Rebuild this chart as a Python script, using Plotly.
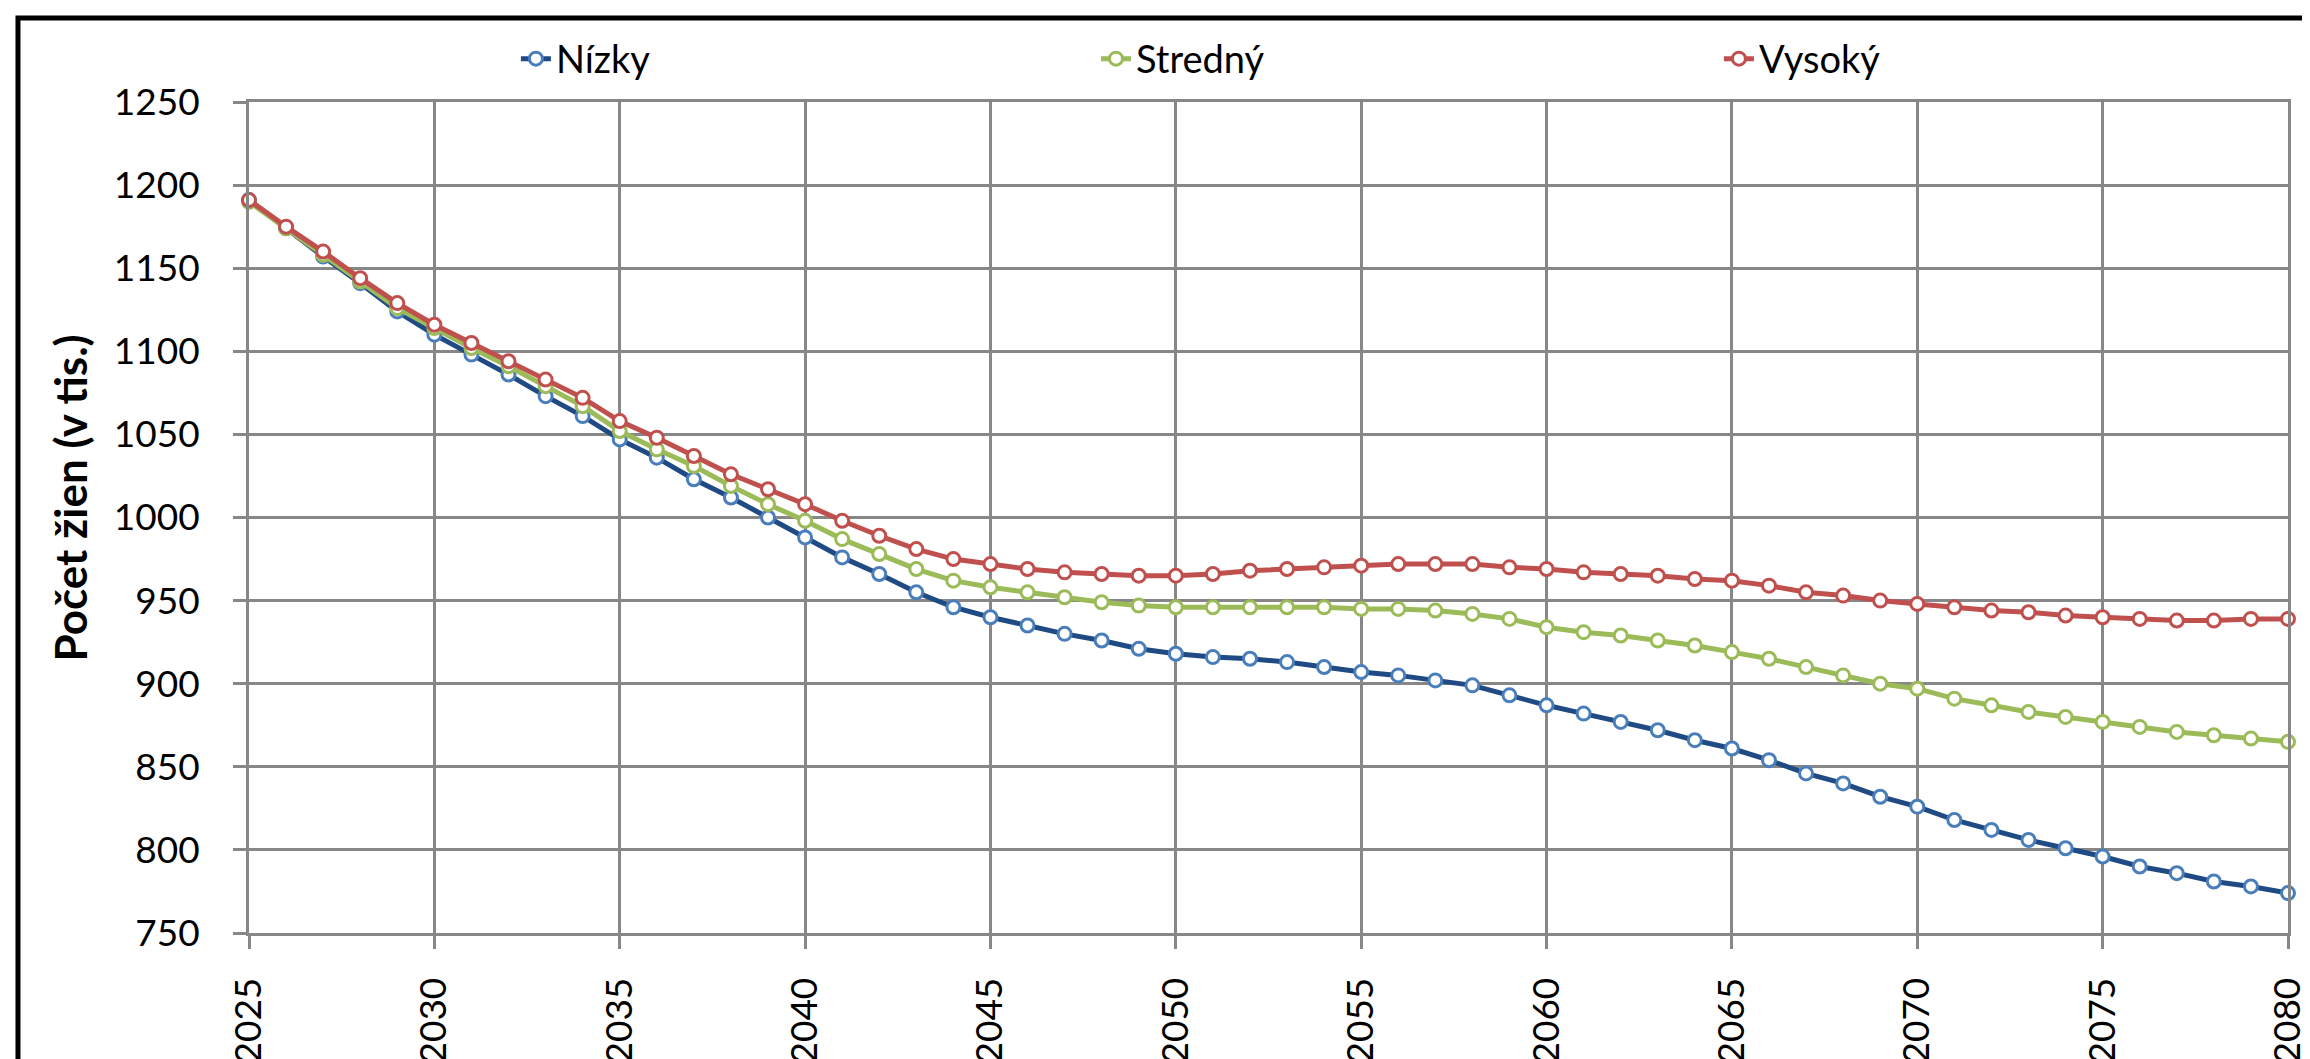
import plotly.graph_objects as go

years = list(range(2025, 2081))

nizky = [1191, 1174, 1157, 1141, 1124, 1110, 1098, 1086, 1073, 1061,
         1047, 1036, 1023, 1012, 1000, 988, 976, 966, 955, 946,
         940, 935, 930, 926, 921, 918, 916, 915, 913, 910,
         907, 905, 902, 899, 893, 887, 882, 877, 872, 866,
         861, 854, 846, 840, 832, 826, 818, 812, 806, 801,
         796, 790, 786, 781, 778, 774]

stredny = [1190, 1174, 1158, 1142, 1126, 1114, 1102, 1091, 1079, 1067,
           1052, 1041, 1031, 1019, 1008, 998, 987, 978, 969, 962,
           958, 955, 952, 949, 947, 946, 946, 946, 946, 946,
           945, 945, 944, 942, 939, 934, 931, 929, 926, 923,
           919, 915, 910, 905, 900, 897, 891, 887, 883, 880,
           877, 874, 871, 869, 867, 865]

vysoky = [1191, 1175, 1160, 1144, 1129, 1116, 1105, 1094, 1083, 1072,
          1058, 1048, 1037, 1026, 1017, 1008, 998, 989, 981, 975,
          972, 969, 967, 966, 965, 965, 966, 968, 969, 970,
          971, 972, 972, 972, 970, 969, 967, 966, 965, 963,
          962, 959, 955, 953, 950, 948, 946, 944, 943, 941,
          940, 939, 938, 938, 939, 939]

series_names = ["Nízky", "Stredný", "Vysoký"]
line_colors = ["#1F4A84", "#9BBB59", "#C0504D"]
marker_colors = ["#4A7EBB", "#9BBB59", "#C0504D"]
legend_ids = ["legend", "legend2", "legend3"]
legend_x = [0.1309, 0.4154, 0.7209]

FONT = "Lato"
GRID = "#878787"

fig = go.Figure()
for name, vals, lc, mc, lid in zip(series_names, [nizky, stredny, vysoky],
                                    line_colors, marker_colors, legend_ids):
    fig.add_trace(go.Scatter(
        x=years, y=vals, name=name, mode="lines+markers",
        line=dict(color=lc, width=5),
        marker=dict(symbol="circle", size=13, color="white",
                    line=dict(color=mc, width=3)),
        legend=lid, cliponaxis=False,
    ))

legend_common = dict(orientation="h", yanchor="middle", y=1.0518,
                     xanchor="left", font=dict(family=FONT, size=38, color="#000000"),
                     bgcolor="rgba(0,0,0,0)")
fig.update_layout(
    legend=dict(x=legend_x[0], **legend_common),
    legend2=dict(x=legend_x[1], **legend_common),
    legend3=dict(x=legend_x[2], **legend_common),
)

fig.update_layout(
    width=2310, height=1059,
    margin=dict(l=241, r=30, t=94, b=134, autoexpand=False),
    paper_bgcolor="white", plot_bgcolor="white",
    font=dict(family=FONT, color="#000000"),
    showlegend=True,
)

fig.update_xaxes(
    range=[2025, 2080], tick0=2025, dtick=5, tickmode="linear",
    showgrid=True, gridcolor=GRID, gridwidth=2.8,
    showline=True, linecolor=GRID, linewidth=2.8, mirror=True,
    ticks="outside", ticklen=13, tickwidth=2.8, tickcolor=GRID,
    tickangle=-90, tickfont=dict(family=FONT, size=37, color="#000000"),
    ticklabelstandoff=14, zeroline=False,
)
fig.update_yaxes(
    range=[750, 1250], tick0=750, dtick=50, tickmode="linear",
    showgrid=True, gridcolor=GRID, gridwidth=2.8,
    showline=True, linecolor=GRID, linewidth=2.8, mirror=True,
    ticks="outside", ticklen=13, tickwidth=2.8, tickcolor=GRID,
    tickfont=dict(family=FONT, size=37, color="#000000"),
    ticklabelstandoff=26, zeroline=False,
)

fig.add_annotation(
    text="<b>Počet žien (v tis.)</b>", textangle=-90,
    xref="paper", yref="paper", x=-0.0878, y=0.524,
    xanchor="center", yanchor="middle", showarrow=False,
    font=dict(family=FONT, size=44, color="#000000"),
)

# outer chart border (cropped at right and bottom in the reference)
fig.add_shape(type="rect", xref="paper", yref="paper",
              x0=-0.1133, x1=1.05, y0=-0.3, y1=1.1012,
              line=dict(color="#000000", width=5), fillcolor="rgba(0,0,0,0)",
              layer="above")

fig.write_html("out.html")
